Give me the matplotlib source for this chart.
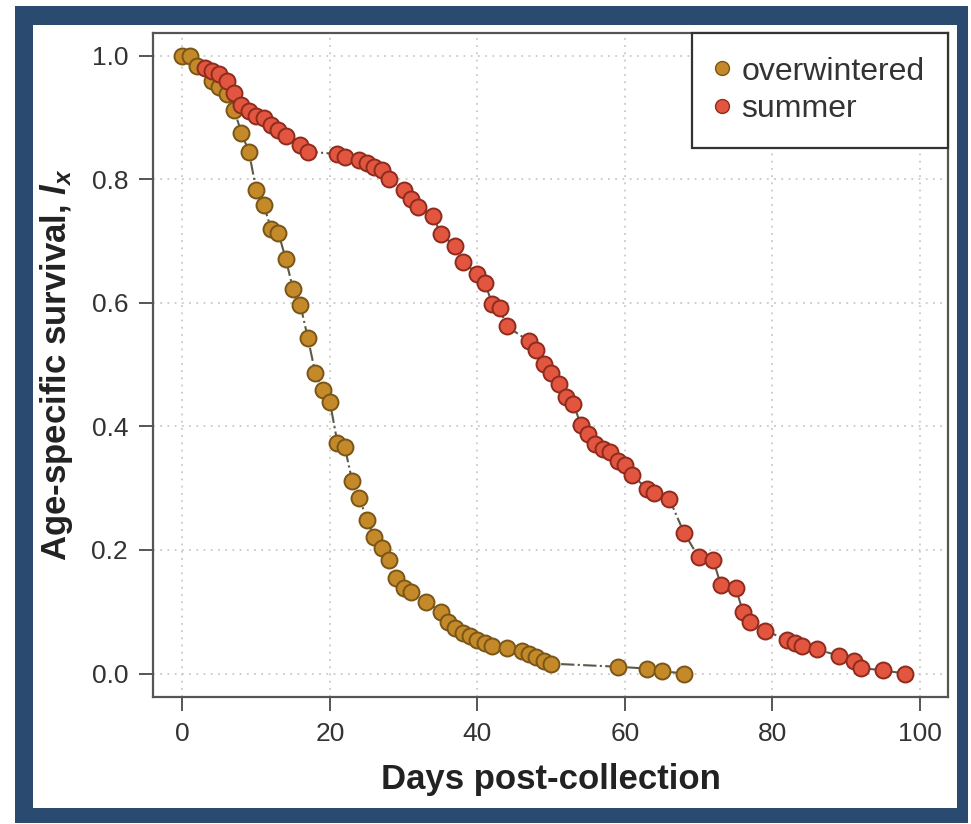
import matplotlib
matplotlib.use("Agg")
import matplotlib.pyplot as plt
from matplotlib.lines import Line2D
from matplotlib.patches import Rectangle

plt.rcParams["font.family"] = ["Liberation Sans", "DejaVu Sans"]
plt.rcParams["mathtext.fontset"] = "custom"
plt.rcParams["mathtext.it"] = "Liberation Sans:italic:bold"
plt.rcParams["mathtext.rm"] = "Liberation Sans:bold"

# overwintered cohort
ow_days = [0, 1, 2, 4, 5, 6, 7, 8, 9, 10, 11, 12, 13, 14, 15, 16, 17, 18, 19, 20,
           21, 22, 23, 24, 25, 26, 27, 28, 29, 30, 31, 33, 35, 36, 37, 38, 39, 40,
           41, 42, 44, 46, 47, 48, 49, 50, 59, 63, 65, 68]
ow_lx = [1.0, 1.0, 0.983, 0.959, 0.949, 0.938, 0.913, 0.875, 0.845, 0.783, 0.759,
         0.72, 0.714, 0.671, 0.622, 0.596, 0.543, 0.487, 0.459, 0.439, 0.374,
         0.367, 0.312, 0.284, 0.249, 0.221, 0.203, 0.183, 0.154, 0.138, 0.132,
         0.116, 0.100, 0.083, 0.074, 0.066, 0.060, 0.054, 0.049, 0.045, 0.041,
         0.036, 0.032, 0.027, 0.020, 0.016, 0.011, 0.008, 0.004, 0.0]

# summer cohort
su_days = [3, 4, 5, 6, 7, 8, 9, 10, 11, 12, 13, 14, 16, 17, 21, 22, 24, 25, 26, 27,
           28, 30, 31, 32, 34, 35, 37, 38, 40, 41, 42, 43, 44, 47, 48, 49, 50, 51,
           52, 53, 54, 55, 56, 57, 58, 59, 60, 61, 63, 64, 66, 68, 70, 72, 73, 75,
           76, 77, 79, 82, 83, 84, 86, 89, 91, 92, 95, 98]
su_lx = [0.98, 0.976, 0.970, 0.960, 0.94, 0.92, 0.910, 0.903, 0.899, 0.888, 0.880,
         0.871, 0.856, 0.845, 0.841, 0.837, 0.832, 0.826, 0.82, 0.815, 0.80, 0.783,
         0.768, 0.756, 0.741, 0.711, 0.692, 0.667, 0.647, 0.633, 0.598, 0.591,
         0.562, 0.538, 0.523, 0.501, 0.487, 0.468, 0.448, 0.437, 0.403, 0.388,
         0.372, 0.363, 0.358, 0.344, 0.337, 0.322, 0.298, 0.292, 0.283, 0.228,
         0.188, 0.183, 0.143, 0.139, 0.100, 0.083, 0.069, 0.055, 0.049, 0.044,
         0.039, 0.029, 0.020, 0.009, 0.005, 0.0]

OW_COLOR, OW_EDGE = "#c48a2a", "#7a5518"
SU_COLOR, SU_EDGE = "#e2553f", "#8e2b1e"
LINE_COLOR = "#5a5a48"

fig = plt.figure(figsize=(9.71, 8.24), dpi=100)

# navy picture frame
fig.patches.append(Rectangle((15 / 971, 1 / 824), 953 / 971, 817 / 824,
                             transform=fig.transFigure, facecolor="#2b4a6f",
                             edgecolor="none", zorder=-2))
fig.patches.append(Rectangle((33 / 971, 16 / 824), 924 / 971, 783 / 824,
                             transform=fig.transFigure, facecolor="white",
                             edgecolor="none", zorder=-1))

ax = fig.add_axes([153 / 971, 127 / 824, 795 / 971, 664 / 824])
ax.set_xlim(-4, 103.8)
ax.set_ylim(-0.038, 1.037)

ax.grid(True, linestyle=(0, (1, 3)), color="#c9c9c9", linewidth=1.3)
ax.set_axisbelow(True)

for days, lx, fc, ec in [(ow_days, ow_lx, OW_COLOR, OW_EDGE),
                         (su_days, su_lx, SU_COLOR, SU_EDGE)]:
    ax.plot(days, lx, linestyle="-.", color=LINE_COLOR, linewidth=1.5, zorder=2)
    ax.plot(days, lx, linestyle="none", marker="o", markersize=11.5,
            markerfacecolor=fc, markeredgecolor=ec, markeredgewidth=1.4, zorder=3)

ax.set_xticks([0, 20, 40, 60, 80, 100])
ax.set_yticks([0.0, 0.2, 0.4, 0.6, 0.8, 1.0])
ax.set_yticklabels(["0.0", "0.2", "0.4", "0.6", "0.8", "1.0"])
ax.tick_params(direction="out", length=10, width=1.4, color="#555555",
               labelsize=19, labelcolor="#333333", pad=8)

for s in ax.spines.values():
    s.set_color("#555555")
    s.set_linewidth(1.6)

ax.set_xlabel("Days post-collection", fontsize=25, fontweight="bold",
              color="#222222", labelpad=12)
ax.set_ylabel(r"Age-specific survival, $l_x$", fontsize=25, fontweight="bold",
              color="#222222", labelpad=12)

handles = [
    Line2D([], [], linestyle="none", marker="o", markersize=10,
           markerfacecolor=OW_COLOR, markeredgecolor=OW_EDGE, label="overwintered"),
    Line2D([], [], linestyle="none", marker="o", markersize=10,
           markerfacecolor=SU_COLOR, markeredgecolor=SU_EDGE, label="summer"),
]
leg = ax.legend(handles=handles, loc="upper right", fontsize=23, frameon=True,
                fancybox=False, borderaxespad=0, borderpad=0.74, labelspacing=0.23,
                handlelength=0.4, handletextpad=0.4, labelcolor="#333333")
leg.get_frame().set_edgecolor("#333333")
leg.get_frame().set_linewidth(1.6)
leg.get_frame().set_alpha(1)

fig.savefig("out.png", dpi=100)
